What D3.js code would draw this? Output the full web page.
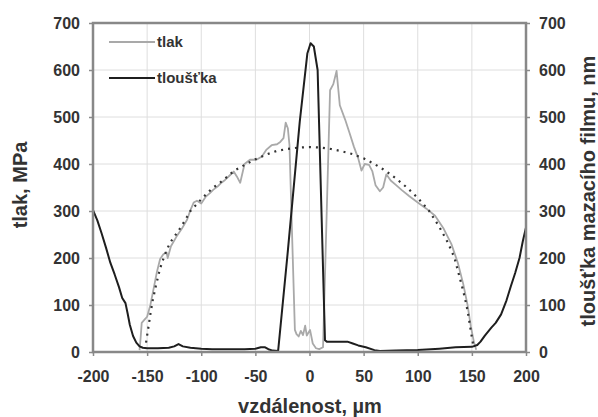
<!DOCTYPE html>
<html>
<head>
<meta charset="utf-8">
<script src="https://cdn.jsdelivr.net/npm/d3@7"></script>
<style>
  html, body { margin: 0; padding: 0; background: #fff; }
  svg { display: block; }
  text { font-family: "Liberation Sans", Arial, sans-serif; font-weight: bold; fill: #333; }
</style>
</head>
<body>
<svg id="chart" width="598" height="417"></svg>
<script>
// Measured pressure along the contact (x in µm, MPa)
const tlak = [
  [-157,4],[-156,30],[-155,62],[-152,70],[-150,75],[-147,100],[-144,135],[-141,170],
  [-138,198],[-135,208],[-132,212],[-131,200],[-128,225],[-123,245],[-118,262],[-113,282],
  [-110,302],[-107,318],[-104,322],[-100,316],[-96,330],[-92,338],[-89,345],[-85,352],
  [-82,359],[-78,366],[-74,375],[-70,384],[-67,373],[-64,360],[-60,400],[-55,409],
  [-49,409],[-44,416],[-40,430],[-35,440],[-30,442],[-27,447],[-24,455],[-22,488],
  [-20,476],[-18.5,440],[-13.5,47],[-12,38],[-10,33],[-8,45],[-6,36],[-4,56],
  [-2.5,35],[0.5,47],[3,18],[6,8],[9,6],[12.5,10],[19,557],[22,570],
  [25,598],[28,525],[33,494],[37,466],[41,437],[45,412],[48,386],[51,400],
  [55,398],[58,385],[61,355],[65,342],[68,350],[71,378],[75,365],[80,355],
  [85,345],[92,332],[100,318],[108,305],[116,290],[124,262],[131,230],[137,190],
  [142,145],[146,100],[149,55],[152,20],[154,5]
];

// Lubricant film thickness (x in µm, nm)
const tloustka = [
  [-200,302],[-196,280],[-192,252],[-188,222],[-184,190],[-180,165],[-176,138],[-173,115],
  [-170,104],[-168,82],[-166,58],[-163,34],[-160,20],[-157,12],[-154,9],[-150,8],
  [-140,8],[-130,9],[-125,12],[-121,17],[-117,12],[-110,9],[-100,7],[-90,6],
  [-80,6],[-70,6],[-60,6],[-50,7],[-45,10],[-41,10],[-38,6],[-34,3],
  [-29,2],[-20,215],[-9,490],[-2,635],[1,657],[4,650],[7.5,600],[14.3,25],
  [16,22],[25,22],[35,22],[40,18],[45,14],[52,10],[60,4],[65,2],
  [80,3],[100,4],[120,7],[135,10],[150,11],[155,15],[158,22],[162,35],
  [168,52],[172,62],[177,80],[182,110],[186,140],[190,168],[194,200],[197,235],
  [200,265]
];

// Hertzian pressure (dotted)
const hertz = [
  [-151,20],[-149,50],[-147,80],[-145,108],[-142,140],[-138,178],[-134,205],[-129,232],
  [-121,258],[-115,280],[-110,300],[-100,325],[-90,348],[-80,365],[-70,385],[-60,398],
  [-50,410],[-40,420],[-30,428],[-20,432],[-10,435],[0,436],[10,435],[20,432],
  [30,427],[40,421],[50,412],[60,400],[70,386],[80,369],[90,350],[100,328],
  [110,302],[120,266],[128,232],[134,200],[138,165],[142,130],[145,100],[147,75],
  [149,45],[151,18]
];

const xTicks = [-200, -150, -100, -50, 0, 50, 100, 150, 200];
const yTicks = [0, 100, 200, 300, 400, 500, 600, 700];
const legendLabels = ["tlak", "tloušťka"];
const xTitle = "vzdálenost, µm";
const yTitleLeft = "tlak, MPa";
const yTitleRight = "tloušťka mazacího filmu, nm";

const svg = d3.select("#chart");
const L = 93, R = 526, T = 23, B = 352;

const x = d3.scaleLinear().domain([-200, 200]).range([L, R]);
const yP = d3.scaleLinear().domain([0, 700]).range([B, T]);
const yH = d3.scaleLinear().domain([0, 700]).range([B, T]);

// grid
const grid = svg.append("g");
grid.selectAll("line.v").data(xTicks.slice(1, -1)).join("line")
  .attr("x1", d => x(d)).attr("x2", d => x(d)).attr("y1", T).attr("y2", B)
  .attr("stroke", "#dedede").attr("stroke-width", 1);
grid.selectAll("line.h").data(yTicks.slice(1, -1)).join("line")
  .attr("x1", L).attr("x2", R).attr("y1", d => yP(d)).attr("y2", d => yP(d))
  .attr("stroke", "#dedede").attr("stroke-width", 1);

// axes
function styleAxis(g) {
  g.select(".domain").remove();
  g.selectAll(".tick line").attr("stroke", "#8a8a8a").attr("stroke-width", 1.5);
  g.selectAll(".tick text").attr("font-size", 16).attr("fill", "#333")
    .attr("font-family", "Liberation Sans, Arial, sans-serif").attr("font-weight", "bold");
}
svg.append("g").attr("transform", `translate(0,${B})`)
  .call(d3.axisBottom(x).tickValues(xTicks).tickSize(4).tickPadding(15).tickFormat(d3.format("d")))
  .call(styleAxis);
svg.append("g").attr("transform", `translate(${L},0)`)
  .call(d3.axisLeft(yP).tickValues(yTicks).tickSize(4).tickPadding(9))
  .call(styleAxis);
svg.append("g").attr("transform", `translate(${R},0)`)
  .call(d3.axisRight(yH).tickValues(yTicks).tickSize(4).tickPadding(9))
  .call(styleAxis);
svg.selectAll(".tick text").text(function () { return this.textContent.replace("−", "-"); });

// series
const lineP = d3.line().x(d => x(d[0])).y(d => yP(d[1]));
const lineH = d3.line().x(d => x(d[0])).y(d => yH(d[1]));

svg.append("path").datum(tlak).attr("d", lineP)
  .attr("fill", "none").attr("stroke", "#a9a9a9").attr("stroke-width", 1.8)
  .attr("stroke-linejoin", "round");
svg.append("path").datum(hertz).attr("d", lineP)
  .attr("fill", "none").attr("stroke", "#333").attr("stroke-width", 2.2)
  .attr("stroke-dasharray", "2,5");
svg.append("path").datum(tloustka).attr("d", lineH)
  .attr("fill", "none").attr("stroke", "#1e1e1e").attr("stroke-width", 2)
  .attr("stroke-linejoin", "round");

// frame
svg.append("rect").attr("x", L).attr("y", T).attr("width", R - L).attr("height", B - T)
  .attr("fill", "none").attr("stroke", "#888").attr("stroke-width", 2.5);

// legend
const legColors = ["#a9a9a9", "#1e1e1e"];
const leg = svg.append("g");
legendLabels.forEach((lab, i) => {
  const ly = 42 + i * 36;
  leg.append("line").attr("x1", 109).attr("x2", 155).attr("y1", ly).attr("y2", ly)
    .attr("stroke", legColors[i]).attr("stroke-width", 1.8);
  leg.append("text").attr("x", 157).attr("y", ly).attr("dy", "0.35em")
    .attr("font-size", 15).text(lab);
});

// titles
svg.append("text").attr("x", 310).attr("y", 413).attr("text-anchor", "middle")
  .attr("font-size", 20).text(xTitle);
svg.append("text").attr("transform", "translate(27,185) rotate(-90)")
  .attr("text-anchor", "middle").attr("font-size", 20).text(yTitleLeft);
svg.append("text").attr("transform", "translate(595,191) rotate(-90)")
  .attr("text-anchor", "middle").attr("font-size", 20).text(yTitleRight);
</script>
</body>
</html>
